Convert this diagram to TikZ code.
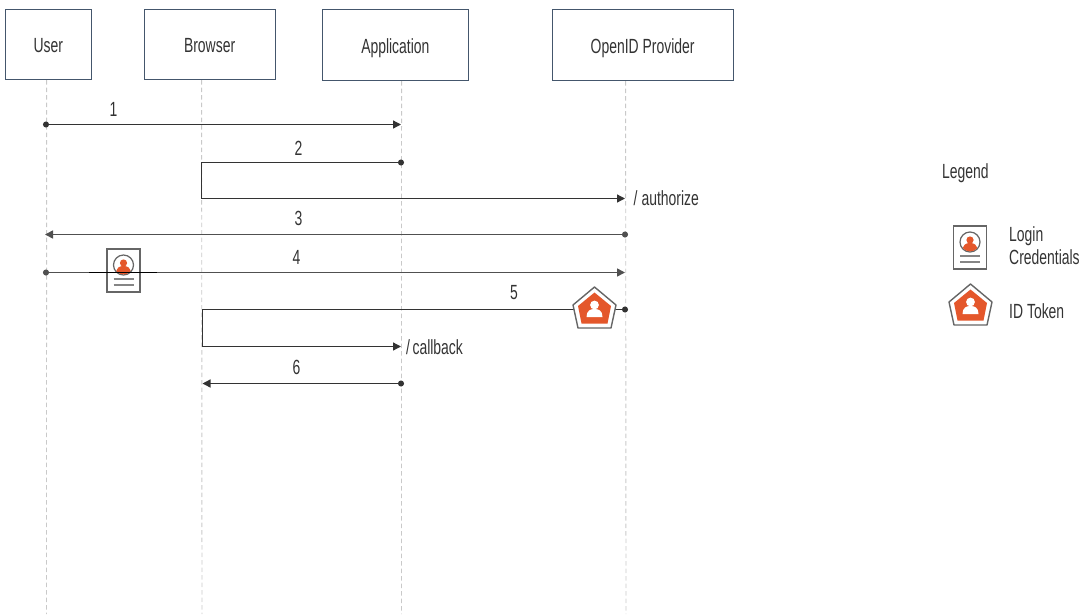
\documentclass[tikz,border=0pt]{standalone}
\usepackage{fontspec}
\setmainfont[FakeStretch=0.68]{Liberation Sans}
\usetikzlibrary{arrows.meta,shapes.geometric}
\definecolor{boxc}{HTML}{44566C}
\definecolor{lifec}{HTML}{C9C9C9}
\definecolor{linec}{HTML}{333333}
\definecolor{linegr}{HTML}{505050}
\definecolor{txt}{HTML}{333333}
\definecolor{org}{HTML}{E4572B}
\definecolor{icong}{HTML}{666666}
\tikzset{
  x=1pt,y=-1pt,
  actor/.style={draw=boxc,line width=1.2pt,fill=white,anchor=north west,inner sep=0pt,text=txt,text height=17pt,text depth=0.5pt,font=\fontsize{20.5}{22}\selectfont},
  life/.style={draw=lifec,line width=0.9pt,dash pattern=on 4.5pt off 3pt},
  msg/.style={draw=linec,line width=1.3pt},
  msgh/.style={draw=linegr,line width=1.6pt},
  dotstart/.style={{Circle[length=6pt,width=6pt]}-{Triangle[length=8pt,width=8pt]}},
  lab/.style={text=txt,inner sep=0pt,font=\fontsize{20.5}{22}\selectfont},
  leg/.style={lab,align=left,anchor=west,font=\fontsize{20.5}{23.5}\selectfont},
}
\newcommand{\credicon}[2]{%
  \begin{scope}[shift={(#1,#2)}]
    \path[draw=icong,line width=1.2pt,fill=white] (-16.5,-21.5) rectangle (16.5,21.5);
    \path[draw=icong,line width=1.2pt,fill=white] (0,-5.5) circle (10);
    \begin{scope}
      \clip (0,-5.5) circle (9.4);
      \path[fill=org] (0,-7.5) circle (3.6);
      \path[fill=org] (-7.5,4) .. controls (-7.5,-3) and (-4,-4.5) .. (0,-4.5) .. controls (4,-4.5) and (7.5,-3) .. (7.5,4) -- cycle;
    \end{scope}
    \path[draw=icong!80,line width=1.5pt] (-10,8.5) -- (10,8.5) (-10,14.5) -- (10,14.5);
  \end{scope}}
\newcommand{\tokenicon}[2]{%
  \begin{scope}[shift={(#1,#2)}]
    \path[draw=icong,line width=1.4pt,fill=white,line join=round] (0,-22) -- (21.5,-4) -- (16.5,19) -- (-16.5,19) -- (-21.5,-4) -- cycle;
    \path[fill=org] (0,-16.5) -- (16.5,-3) -- (13,14.5) -- (-13,14.5) -- (-16.5,-3) -- cycle;
    \path[fill=white] (0,-4) circle (4.4);
    \path[fill=white] (-8,8) .. controls (-8,1.5) and (-4,0) .. (0,0) .. controls (4,0) and (8,1.5) .. (8,8) -- cycle;
  \end{scope}}
\begin{document}
\begin{tikzpicture}
\useasboundingbox (0,0) rectangle (1090,614);
% actor boxes
\node[actor,minimum width=85.5pt,minimum height=70.5pt] (user) at (5,8.5) {User};
\node[actor,minimum width=131pt,minimum height=70.5pt] (browser) at (143.5,8.5) {Browser};
\node[actor,minimum width=145.5pt,minimum height=71.5pt] (app) at (322,8.5) {Application};
\node[actor,minimum width=181pt,minimum height=71.5pt] (idp) at (551.5,8.5) {OpenID Provider};
% lifeline ends
\coordinate (ub) at (46.5,614);
\coordinate (bb) at (202,614);
\coordinate (ab) at (401.5,614);
\coordinate (ib) at (626,614);
\path (user.south) ++(-1.75,0) coordinate (ut);
\path (browser.south) ++(-8,0) coordinate (bt);
\path (app.south) ++(6.2,0) coordinate (at);
\path (idp.south) ++(-17,0) coordinate (it);
\draw[life] (ut) -- (ub);
\draw[life] (bt) -- (bb);
\draw[life] (at) -- (ab);
\draw[life] (it) -- (ib);
% message anchors (a dot tip starts at the coordinate, so it lies 3pt beyond the lifeline)
\coordinate (u1) at (43,124.5); \coordinate (a1) at (401,124.5);
\coordinate (a2) at (404,162.5); \coordinate (b2) at (201.5,162.5);
\coordinate (b2b) at (201.5,198.5); \coordinate (i2) at (625,198.5);
\coordinate (i3) at (628,234.5); \coordinate (u3) at (45,234.5);
\coordinate (u4) at (43,272.5); \coordinate (i4) at (625,272.5);
\coordinate (i5) at (628,309.5); \coordinate (b5) at (202.5,309.5);
\coordinate (b5b) at (202.5,346.5); \coordinate (a5) at (401,346.5);
\coordinate (a6) at (404,383.5); \coordinate (b6) at (202.5,383.5);
\draw[msg,dotstart] (u1) -- (a1);
\draw[msg,dotstart,line join=miter] (a2) -- (b2) -- (b2b) -- (i2);
\draw[msgh,dotstart] (i3) -- (u3);
\draw[msgh,dotstart] (u4) -- (i4);
\draw[msg,dotstart,line join=miter] (i5) -- (b5) -- (b5b) -- (a5);
\draw[msg,dotstart] (a6) -- (b6);
% icons in the flow
\credicon{123.5}{270.5}
\coordinate (s1) at (89,272.5); \coordinate (s2) at (157,272.5);
\draw[black,line width=1.9pt] (s1) -- (s2);
\tokenicon{594.5}{309}
% labels
\node[lab] (l1) at (113.5,109) {1};
\node[lab] (l2) at (298.5,148) {2};
\node[lab] (l3) at (298.5,218.5) {3};
\node[lab] (l4) at (296.5,257) {4};
\node[lab] (l5) at (514,293) {5};
\node[lab] (l6) at (296.5,367.5) {6};
\node[lab,anchor=base west] (authz) at (633.5,205) {/\kern4pt authorize};
\node[lab,anchor=base west] (cb) at (406,354) {/\kern2.5pt callback};
% legend
\node[lab,anchor=base west] (legend) at (942,178) {Legend};
\credicon{970}{247.5}
\node[leg] (lc) at (1009,245.5) {Login\\Credentials};
\tokenicon{970.5}{306}
\node[lab,anchor=base west] (idt) at (1009,318) {ID Token};
\end{tikzpicture}
\end{document}
